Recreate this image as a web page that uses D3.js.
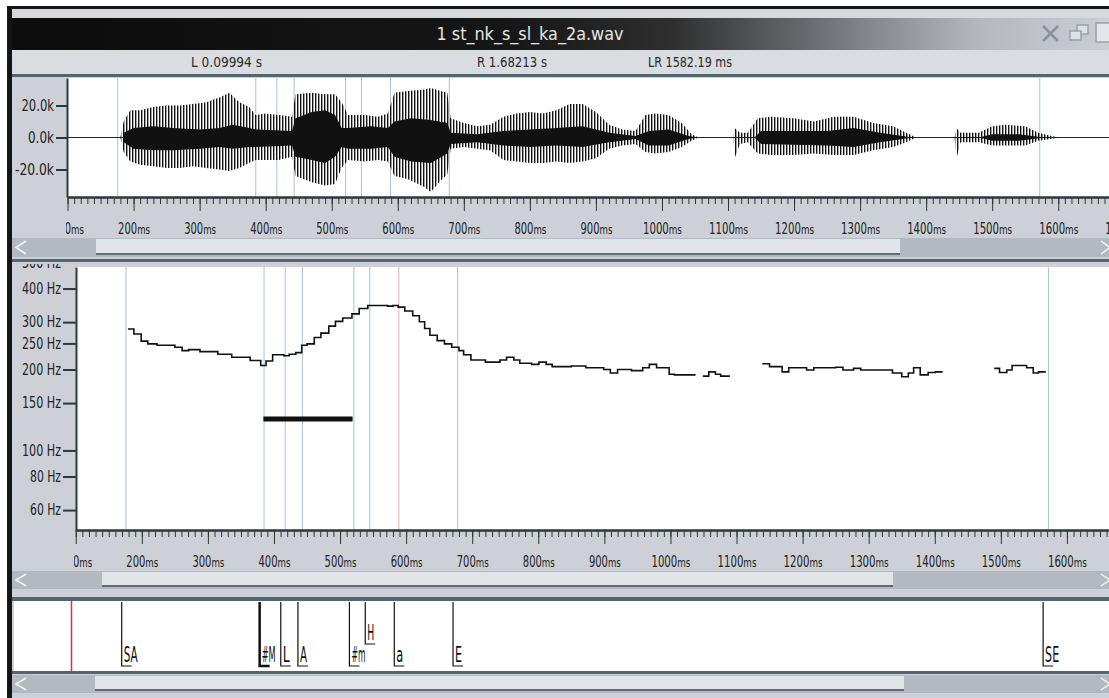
<!DOCTYPE html>
<meta charset="utf-8">
<script src="https://d3js.org/d3.v7.min.js"></script>
<style>
  body { margin: 0; background: #ffffff; }
  text { font-family: "DejaVu Sans Condensed", "Liberation Sans Narrow", "DejaVu Sans", sans-serif; }
</style>
<div id="viewer"></div>
<script>

// visible window of the recording, ms
var viewStart = 99.94, viewEnd = 1682.13;

var fileName = "1 st_nk_s_sl_ka_2a.wav";

// axis ticks
var timeTicks = [100, 200, 300, 400, 500, 600, 700, 800, 900, 1000, 1100, 1200, 1300, 1400, 1500, 1600, 1700];
var ampTicks = [-20000, 0, 20000];
var hzTicks = [60, 80, 100, 150, 200, 250, 300, 400, 500];

// label tier (ms)
var labelNames = ["SA", "#M", "L", "A", "#m", "H", "a", "E", "SE"];
var labelTimes = [176, 385, 417, 443, 521, 545, 589, 678, 1572];
var labelTier  = [0, 0, 0, 0, 0, 1, 0, 0, 0];

// waveform envelope, thousands of sample units
var envTimes = [100, 180, 185, 195, 210, 230, 250, 270, 290, 310, 330, 345, 360, 375, 385, 400, 420, 440, 445, 470, 490, 505, 515, 525, 550, 570, 585, 595, 615, 640, 650, 665, 675, 680, 700, 720, 740, 760, 780, 800, 820, 840, 860, 880, 900, 920, 940, 960, 975, 990, 1010, 1030, 1045, 1055, 1108, 1110, 1118, 1130, 1145, 1165, 1200, 1230, 1260, 1290, 1320, 1350, 1370, 1385, 1443, 1446, 1452, 1480, 1500, 1520, 1550, 1570, 1590, 1600, 1682];
var envHi = [0, 0, 10, 17, 17, 19, 20, 20, 21, 22, 25, 28, 22, 19, 14, 15, 14, 13, 27, 28, 27, 27, 22, 14, 14, 13, 15, 28, 29, 30, 31, 29, 28, 12, 9, 7, 8, 13, 15, 16, 15, 17, 21, 21, 16, 8, 5, 4, 14, 15, 14, 9, 2, 0, 0, 6, 3, 3, 12, 13, 12, 10, 13, 13, 9, 7, 3, 0, 0, 6, 3, 3, 7, 8, 7, 3, 1, 0, 0];
var envLo = [0, 0, -9, -15, -17, -18, -19, -19, -18, -19, -20, -21, -19, -16, -14, -14, -14, -12, -24, -28, -30, -29, -19, -14, -15, -14, -15, -24, -26, -31, -34, -27, -23, -7, -6, -7, -8, -14, -15, -16, -16, -15, -16, -15, -13, -7, -5, -4, -9, -10, -9, -6, -2, 0, 0, -13, -4, -3, -10, -11, -11, -10, -11, -11, -8, -6, -3, 0, 0, -13, -3, -3, -5, -5, -5, -2, -1, 0, 0];

// dense dark core of the waveform
var coreTimes = [185, 200, 230, 260, 300, 330, 350, 375, 385, 440, 445, 470, 490, 505, 515, 525, 560, 585, 595, 620, 650, 675, 680, 720, 760, 800, 840, 880, 920, 960, 980, 1010, 1040, 1055, 1140, 1150, 1250, 1290, 1330, 1380, 1480, 1500, 1540, 1580];
var coreHi = [3, 6, 7, 6, 5, 6, 8, 6, 5, 4, 12, 16, 17, 14, 6, 6, 7, 6, 10, 12, 11, 9, 3, 2, 4, 5, 6, 7, 3, 1, 4, 5, 1, 0, 0, 4, 4, 6, 3, 0, 0, 2, 2, 0];
var coreLo = [-3, -7, -8, -8, -7, -6, -7, -6, -6, -5, -12, -14, -16, -12, -6, -7, -7, -6, -12, -15, -16, -10, -4, -3, -5, -6, -5, -6, -3, -1, -5, -5, -1, 0, 0, -4, -5, -6, -3, 0, 0, -2, -2, 0];

// F0 contour (step values, Hz); null = unvoiced gap
var f0Times = [179, 188, 199, 209, 223, 250, 261, 271, 288, 315, 336, 364, 380, 388, 398, 415, 423, 433, 442, 450, 461, 471, 483, 493, 504, 518, 529, 542, 572, 580, 588, 598, 610, 620, 628, 636, 647, 658, 669, 680, 687, 698, 720, 742, 752, 763, 772, 790, 801, 812, 821, 850, 872, 899, 909, 920, 941, 958, 968, 979, 998, 1006, 1038, 1043,
  1049, 1058, 1068, 1076, 1090, 1095,
  1139, 1150, 1169, 1179, 1206, 1217, 1250, 1261, 1277, 1288, 1336, 1350, 1360, 1368, 1378, 1390, 1401, 1412, 1420,
  1490, 1498, 1509, 1517, 1539, 1549, 1557, 1568];
var f0Hz = [283, 271, 255, 249, 246, 242, 235, 237, 233, 228, 222, 216, 207, 215, 227, 225, 228, 231, 246, 249, 263, 273, 290, 302, 311, 322, 337, 346, 344, 346, 341, 330, 317, 301, 284, 268, 256, 249, 242, 235, 227, 217, 213, 217, 222, 217, 211, 209, 213, 209, 205, 206, 203, 200, 194, 200, 198, 203, 209, 203, 192, 191, 191, null,
  189, 196, 192, 189, 189, null,
  210, 205, 196, 203, 199, 203, 204, 199, 202, 199, 194, 188, 194, 203, 191, 195, 196, 196, null,
  202, 195, 199, 207, 203, 194, 196, 196];

// accent bar in the pitch panel
var barTimes = [384, 519];
var barHz = 131;

var W = 1109, H = 698;
var svg = d3.select("#viewer").append("svg")
    .attr("width", W)
    .attr("height", H);

var defs = svg.append("defs");
var grad = defs.append("linearGradient").attr("id", "titleGrad");
[[0, "#0c0c0c"], [0.45, "#161616"], [0.6, "#2e2e2e"], [0.74, "#6f7276"], [0.88, "#b4b8bd"], [1, "#cbced2"]].forEach(function(s) {
  grad.append("stop").attr("offset", s[0]).attr("stop-color", s[1]);
});
defs.append("pattern").attr("id", "stripes")
    .attr("width", 3).attr("height", 8).attr("patternUnits", "userSpaceOnUse")
  .append("rect").attr("width", 1.4).attr("height", 8).attr("fill", "#111");

// clip rects are given in the local coordinates of the element that uses them
function clip(id, x, y, w, h) {
  defs.append("clipPath").attr("id", id)
    .append("rect").attr("x", x).attr("y", y).attr("width", w).attr("height", h);
}
clip("waveClip", 67, 78, 1050, 119);
clip("waveLabClip", 66, -5, 1060, 50);
clip("pitchClip", 76, 267, 1040, 263);
clip("pitchAxisClip", 0, 264, 90, 280);
clip("pitchLabClip", 74, -5, 1060, 50);

// window frame
svg.append("rect").attr("width", W).attr("height", H).attr("fill", "#cdd1d7");
svg.append("rect").attr("width", W).attr("height", 6).attr("fill", "#ffffff");
svg.append("rect").attr("width", 7).attr("height", H).attr("fill", "#ffffff");
svg.append("rect").attr("x", 7).attr("y", 6).attr("width", W).attr("height", 3).attr("fill", "#151515");
svg.append("rect").attr("x", 7).attr("y", 6).attr("width", 5).attr("height", H).attr("fill", "#151515");
svg.append("rect").attr("x", 12).attr("y", 9).attr("width", W).attr("height", 9).attr("fill", "#d5d8dd");

// title bar
svg.append("rect").attr("x", 12).attr("y", 18).attr("width", W - 12).attr("height", 32).attr("fill", "url(#titleGrad)");
svg.append("text").attr("x", 530).attr("y", 40).attr("text-anchor", "middle")
    .attr("font-size", 18).attr("fill", "#e6e6e6")
    .attr("textLength", 187).attr("lengthAdjust", "spacingAndGlyphs")
    .text(fileName);
// window buttons
svg.append("path").attr("d", "M1043,26L1058,41M1058,26L1043,41").attr("stroke", "#8b9197").attr("stroke-width", 2.5);
svg.append("rect").attr("x", 1077).attr("y", 25).attr("width", 11).attr("height", 9).attr("fill", "#dfe2e5").attr("stroke", "#9ba1a7").attr("stroke-width", 1.5);
svg.append("rect").attr("x", 1070).attr("y", 31).attr("width", 11).attr("height", 9).attr("fill", "#dfe2e5").attr("stroke", "#9ba1a7").attr("stroke-width", 1.5);
svg.append("rect").attr("x", 1096).attr("y", 23).attr("width", 16).attr("height", 19).attr("fill", "#e4e6e9").attr("stroke", "#9ba1a7").attr("stroke-width", 1.5);

// info bar
svg.append("rect").attr("x", 12).attr("y", 50).attr("width", W).attr("height", 24).attr("fill", "#d9dce1");
function infoText(x, label, len) {
  svg.append("text").attr("x", x).attr("y", 67).attr("font-size", 14).attr("fill", "#2a2a2a")
      .attr("textLength", len).attr("lengthAdjust", "spacingAndGlyphs")
      .text(label);
}
infoText(191, "L 0.09994 s", 71);
infoText(477, "R 1.68213 s", 70);
infoText(648, "LR 1582.19 ms", 84);
svg.append("rect").attr("x", 12).attr("y", 74).attr("width", W).attr("height", 3).attr("fill", "#52666f");

// scales
var xW = d3.scaleLinear().domain([viewStart, viewEnd]).range([67.5, 1112.5]);
var yW = d3.scaleLinear().domain([-37200, 37200]).range([197, 78]);
var xP = d3.scaleLinear().domain([viewStart, viewEnd]).range([75.7, 1121.2]);
var yP = d3.scaleLog().domain([50.6, 481]).range([530, 267]);
var xL = d3.scaleLinear().domain([viewStart, viewEnd]).range([71.5, 1115.8]);

var minorTicks = d3.range(100, 1701, 10);
var pinkGuides = {"a": 1, "E": 1};

function timeAxis(g, x, clipId) {
  var minor = g.append("g").call(d3.axisBottom(x).tickValues(minorTicks).tickSize(7).tickSizeOuter(0).tickFormat(""));
  minor.selectAll("text").remove();
  var major = g.append("g").call(d3.axisBottom(x).tickValues(timeTicks).tickSize(14).tickSizeOuter(0).tickPadding(12));
  major.selectAll(".tick text").each(function(d) {
    var t = d3.select(this).text(null);
    t.append("tspan").text(d);
    t.append("tspan").attr("font-size", 13).text("ms");
    t.attr("textLength", String(d).length * 7 + 11).attr("lengthAdjust", "spacingAndGlyphs");
  });
  major.attr("clip-path", "url(#" + clipId + ")");
  g.selectAll(".domain").attr("stroke", "#2b3b3d").attr("stroke-width", 2);
  g.selectAll(".tick line").attr("stroke", "#333");
  major.selectAll("text").attr("font-family", null).attr("font-size", 15).attr("fill", "#222");
}

function scrollbar(y, h, x0, x1) {
  var g = svg.append("g");
  g.append("rect").attr("x", 12).attr("y", y).attr("width", W).attr("height", h).attr("fill", "#b4b9c1");
  g.append("rect").attr("x", x0).attr("y", y + 1).attr("width", x1 - x0).attr("height", h - 5).attr("fill", "#e1e4e8");
  g.append("rect").attr("x", x0).attr("y", y + h - 4).attr("width", x1 - x0).attr("height", 2).attr("fill", "#5d6d77");
  g.append("path").attr("d", "M26," + (y + 3) + "L16," + (y + h / 2) + "L26," + (y + h - 3))
      .attr("fill", "none").attr("stroke", "#f2f4f6").attr("stroke-width", 1.5);
  g.append("path").attr("d", "M1101," + (y + 3) + "L1110," + (y + h / 2) + "L1101," + (y + h - 3))
      .attr("fill", "none").attr("stroke", "#f2f4f6").attr("stroke-width", 1.5);
}

// ---------------- waveform panel ----------------
var wave = svg.append("g");
wave.append("rect").attr("x", 67).attr("y", 78).attr("width", 1050).attr("height", 119).attr("fill", "#ffffff");

var wplot = wave.append("g").attr("clip-path", "url(#waveClip)");
wplot.selectAll(".guide").data(labelTimes).enter().append("line")
    .attr("x1", function(d) { return xW(d); })
    .attr("x2", function(d) { return xW(d); })
    .attr("y1", 78).attr("y2", 197)
    .attr("stroke", "#a6c3dc").attr("stroke-width", 1);

wplot.append("line")
    .attr("x1", xW(viewStart)).attr("x2", xW(viewEnd))
    .attr("y1", yW(0)).attr("y2", yW(0))
    .attr("stroke", "#222").attr("stroke-width", 1);

var envArea = d3.area()
    .x(function(i) { return xW(envTimes[i]); })
    .y0(function(i) { return yW(envLo[i] * 1000); })
    .y1(function(i) { return yW(envHi[i] * 1000); });
wplot.append("path").datum(d3.range(envTimes.length))
    .attr("d", envArea).attr("fill", "url(#stripes)");

var coreArea = d3.area()
    .x(function(i) { return xW(coreTimes[i]); })
    .y0(function(i) { return yW(coreLo[i] * 1000); })
    .y1(function(i) { return yW(coreHi[i] * 1000); });
wplot.append("path").datum(d3.range(coreTimes.length))
    .attr("d", coreArea).attr("fill", "#111");

var wy = wave.append("g").attr("transform", "translate(67,0)")
    .call(d3.axisLeft(yW).tickValues(ampTicks).tickSize(11).tickSizeOuter(0).tickPadding(2)
      .tickFormat(function(d) { return (d / 1000).toFixed(1) + "k"; }));
wy.select(".domain").attr("stroke", "#2b3b3d").attr("stroke-width", 2);
wy.selectAll(".tick line").attr("stroke", "#2b3b3d").attr("stroke-width", 2);
wy.selectAll("text").attr("font-family", null).attr("font-size", 15).attr("fill", "#222")
    .each(function() {
      var s = d3.select(this);
      s.attr("textLength", s.text().length * 6.5).attr("lengthAdjust", "spacingAndGlyphs");
    });

timeAxis(wave.append("g").attr("transform", "translate(0,197)"), xW, "waveLabClip");
scrollbar(238, 19, 96, 900);
svg.append("rect").attr("x", 12).attr("y", 259).attr("width", W).attr("height", 3).attr("fill", "#52666f");

// ---------------- pitch panel ----------------
var pitch = svg.append("g");
pitch.append("rect").attr("x", 76).attr("y", 267).attr("width", 1040).attr("height", 263).attr("fill", "#ffffff");

var pplot = pitch.append("g").attr("clip-path", "url(#pitchClip)");
pplot.selectAll(".guide").data(labelNames).enter().append("line")
    .attr("x1", function(d, i) { return xP(labelTimes[i]); })
    .attr("x2", function(d, i) { return xP(labelTimes[i]); })
    .attr("y1", 267).attr("y2", 530)
    .attr("stroke", function(d) { return pinkGuides[d] ? "#e4aaa3" : "#a6c3dc"; })
    .attr("stroke-width", 1);

pplot.append("line")
    .attr("x1", xP(barTimes[0])).attr("x2", xP(barTimes[1]))
    .attr("y1", yP(barHz)).attr("y2", yP(barHz))
    .attr("stroke", "#111").attr("stroke-width", 5);

var f0Line = d3.line()
    .defined(function(i) { return f0Hz[i] !== null; })
    .x(function(i) { return xP(f0Times[i]); })
    .y(function(i) { return yP(f0Hz[i]); })
    .curve(d3.curveStepAfter);
pplot.append("path").datum(d3.range(f0Times.length))
    .attr("d", f0Line).attr("fill", "none")
    .attr("stroke", "#111").attr("stroke-width", 1.6);

// Hz axis: ticks from d3, labels written beside them
var pyWrap = pitch.append("g").attr("clip-path", "url(#pitchAxisClip)");
var py = pyWrap.append("g").attr("transform", "translate(76,0)")
    .call(d3.axisLeft(yP).tickValues(hzTicks).tickSize(13).tickSizeOuter(0).tickFormat(""));
py.selectAll("text").remove();
py.select(".domain").attr("stroke", "#2b3b3d").attr("stroke-width", 2);
py.selectAll(".tick line").attr("stroke", "#2b3b3d").attr("stroke-width", 2);
pyWrap.selectAll(".hzlab").data(hzTicks).enter().append("text")
    .attr("x", 61)
    .attr("y", function(d) { return yP(d); })
    .attr("dy", "0.34em")
    .attr("text-anchor", "end")
    .attr("font-size", 15).attr("fill", "#222")
    .attr("textLength", function(d) { return String(d).length * 8 + 15; })
    .attr("lengthAdjust", "spacingAndGlyphs")
    .text(function(d) { return d + " Hz"; });

timeAxis(pitch.append("g").attr("transform", "translate(0,530)"), xP, "pitchLabClip");
scrollbar(571, 18, 102, 893);
svg.append("rect").attr("x", 12).attr("y", 597).attr("width", W).attr("height", 4).attr("fill", "#52666f");

// ---------------- label panel ----------------
var lab = svg.append("g");
lab.append("rect").attr("x", 14).attr("y", 601).attr("width", W).attr("height", 70).attr("fill", "#ffffff");
lab.append("line")
    .attr("x1", xL(viewStart)).attr("x2", xL(viewStart))
    .attr("y1", 601).attr("y2", 671)
    .attr("stroke", "#d0392a").attr("stroke-width", 1.5);

var heavyLabels = {"#M": 1};
var marks = lab.selectAll(".mark").data(labelNames).enter().append("g");
marks.append("path")
    .attr("d", function(d, i) {
      var x = xL(labelTimes[i]), yb = labelTier[i] ? 644 : 666;
      return "M" + x + ",602V" + yb + "H" + (x + 10);
    })
    .attr("fill", "none").attr("stroke", "#111")
    .attr("stroke-width", function(d) { return heavyLabels[d] ? 2.5 : 1.2; });
marks.append("text")
    .attr("x", function(d, i) { return xL(labelTimes[i]) + 2; })
    .attr("y", function(d, i) { return labelTier[i] ? 640 : 662; })
    .attr("font-size", 21).attr("fill", "#111")
    .attr("textLength", function(d) { return d.length * 7; })
    .attr("lengthAdjust", "spacingAndGlyphs")
    .text(function(d) { return d; });

svg.append("rect").attr("x", 12).attr("y", 671).attr("width", W).attr("height", 3).attr("fill", "#52666f");
scrollbar(675, 18, 95, 904);

</script>
